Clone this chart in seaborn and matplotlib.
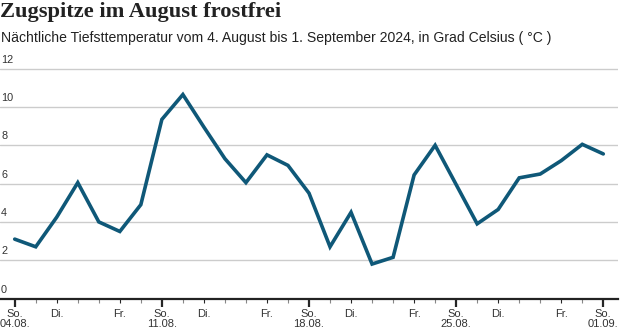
import matplotlib
matplotlib.use("Agg")
import matplotlib.pyplot as plt
import matplotlib.transforms as mtransforms
import seaborn as sns
import pandas as pd
import numpy as np

# ---- data ----
dates = pd.date_range("2024-08-04", "2024-09-01", freq="D")
temps = [3.1, 2.7, 4.25, 6.05, 4.0, 3.5, 4.9, 9.35, 10.65, 8.95, 7.3, 6.05,
         7.5, 6.95, 5.5, 2.7, 4.5, 1.8, 2.15, 6.45, 8.0, 5.95, 3.9, 4.65,
         6.3, 6.5, 7.2, 8.05, 7.55]
label_days = [0, 2, 5, 7, 9, 12, 14, 16, 19, 21, 23, 26, 28]
label_texts = ["So.\n04.08.", "Di.", "Fr.", "So.\n11.08.", "Di.", "Fr.",
               "So.\n18.08.", "Di.", "Fr.", "So.\n25.08.", "Di.", "Fr.",
               "So.\n01.09."]
y_ticks = [0, 2, 4, 6, 8, 10, 12]

title = "Zugspitze im August frostfrei"
subtitle = "Nächtliche Tiefsttemperatur vom 4. August bis 1. September 2024, in Grad Celsius ( °C )"

df = pd.DataFrame({"day": (dates - dates[0]).days, "temp": temps})

sns.set_theme(style="white")
plt.rcParams["font.family"] = ["Liberation Sans", "DejaVu Sans"]

fig = plt.figure(figsize=(6.2, 3.36), dpi=100)
ax = fig.add_axes([0.0, 0.1116, 618 / 620, 0.7039])

LINE = "#0f5878"
sns.lineplot(data=df, x="day", y="temp", ax=ax, color=LINE, linewidth=2.6,
             solid_joinstyle="miter", zorder=3)

ax.set_xlim(-0.7, 28.7)
ax.set_ylim(0, 12.35)
ax.set_xlabel("")
ax.set_ylabel("")

for s in ["top", "right", "left"]:
    ax.spines[s].set_visible(False)
ax.spines["bottom"].set_color("#222222")
ax.spines["bottom"].set_linewidth(1.6)
ax.spines["bottom"].set_zorder(4)

# gridlines
for v in y_ticks[1:]:
    ax.axhline(v, color="#cccccc", linewidth=1.0, zorder=1)
ax.set_yticks([])

# y labels inside plot, above gridlines
trans = mtransforms.blended_transform_factory(ax.transAxes, ax.transData)
off = mtransforms.offset_copy(trans, fig=fig, x=1, y=4, units="dots")
for v in y_ticks:
    ax.text(0, v, str(v), transform=off, ha="left", va="bottom",
            fontsize=7.8, color="#333333")

# x ticks
ax.set_xticks(label_days)
ax.set_xticklabels(label_texts, fontsize=8.0, color="#333333", linespacing=1.0)
ax.set_xticks(np.arange(len(temps)), minor=True)
ax.tick_params(axis="x", which="major", direction="out", pad=1.5, bottom=True)
ax.tick_params(axis="x", which="minor", direction="out", length=3, width=0.8,
               color="#888888", bottom=True)
for d, t in zip(label_days, ax.xaxis.get_major_ticks()):
    if d % 7 == 0:
        t.tick1line.set_markersize(6)
        t.tick1line.set_markeredgewidth(1.6)
        t.tick1line.set_color("#222222")
    else:
        t.tick1line.set_markersize(3)
        t.tick1line.set_markeredgewidth(0.8)
        t.tick1line.set_color("#888888")
for lbl in ax.get_xticklabels():
    lbl.set_verticalalignment("top")

fig.text(0.0, 1 - 2 / 336, title, ha="left", va="top",
         fontsize=16.2, fontweight="bold", color="#222222",
         family=["Liberation Serif", "DejaVu Serif"])
fig.text(0.002, 1 - 31 / 336, subtitle, ha="left", va="top",
         fontsize=10.1, color="#222222")

fig.savefig("out.png", dpi=100)
